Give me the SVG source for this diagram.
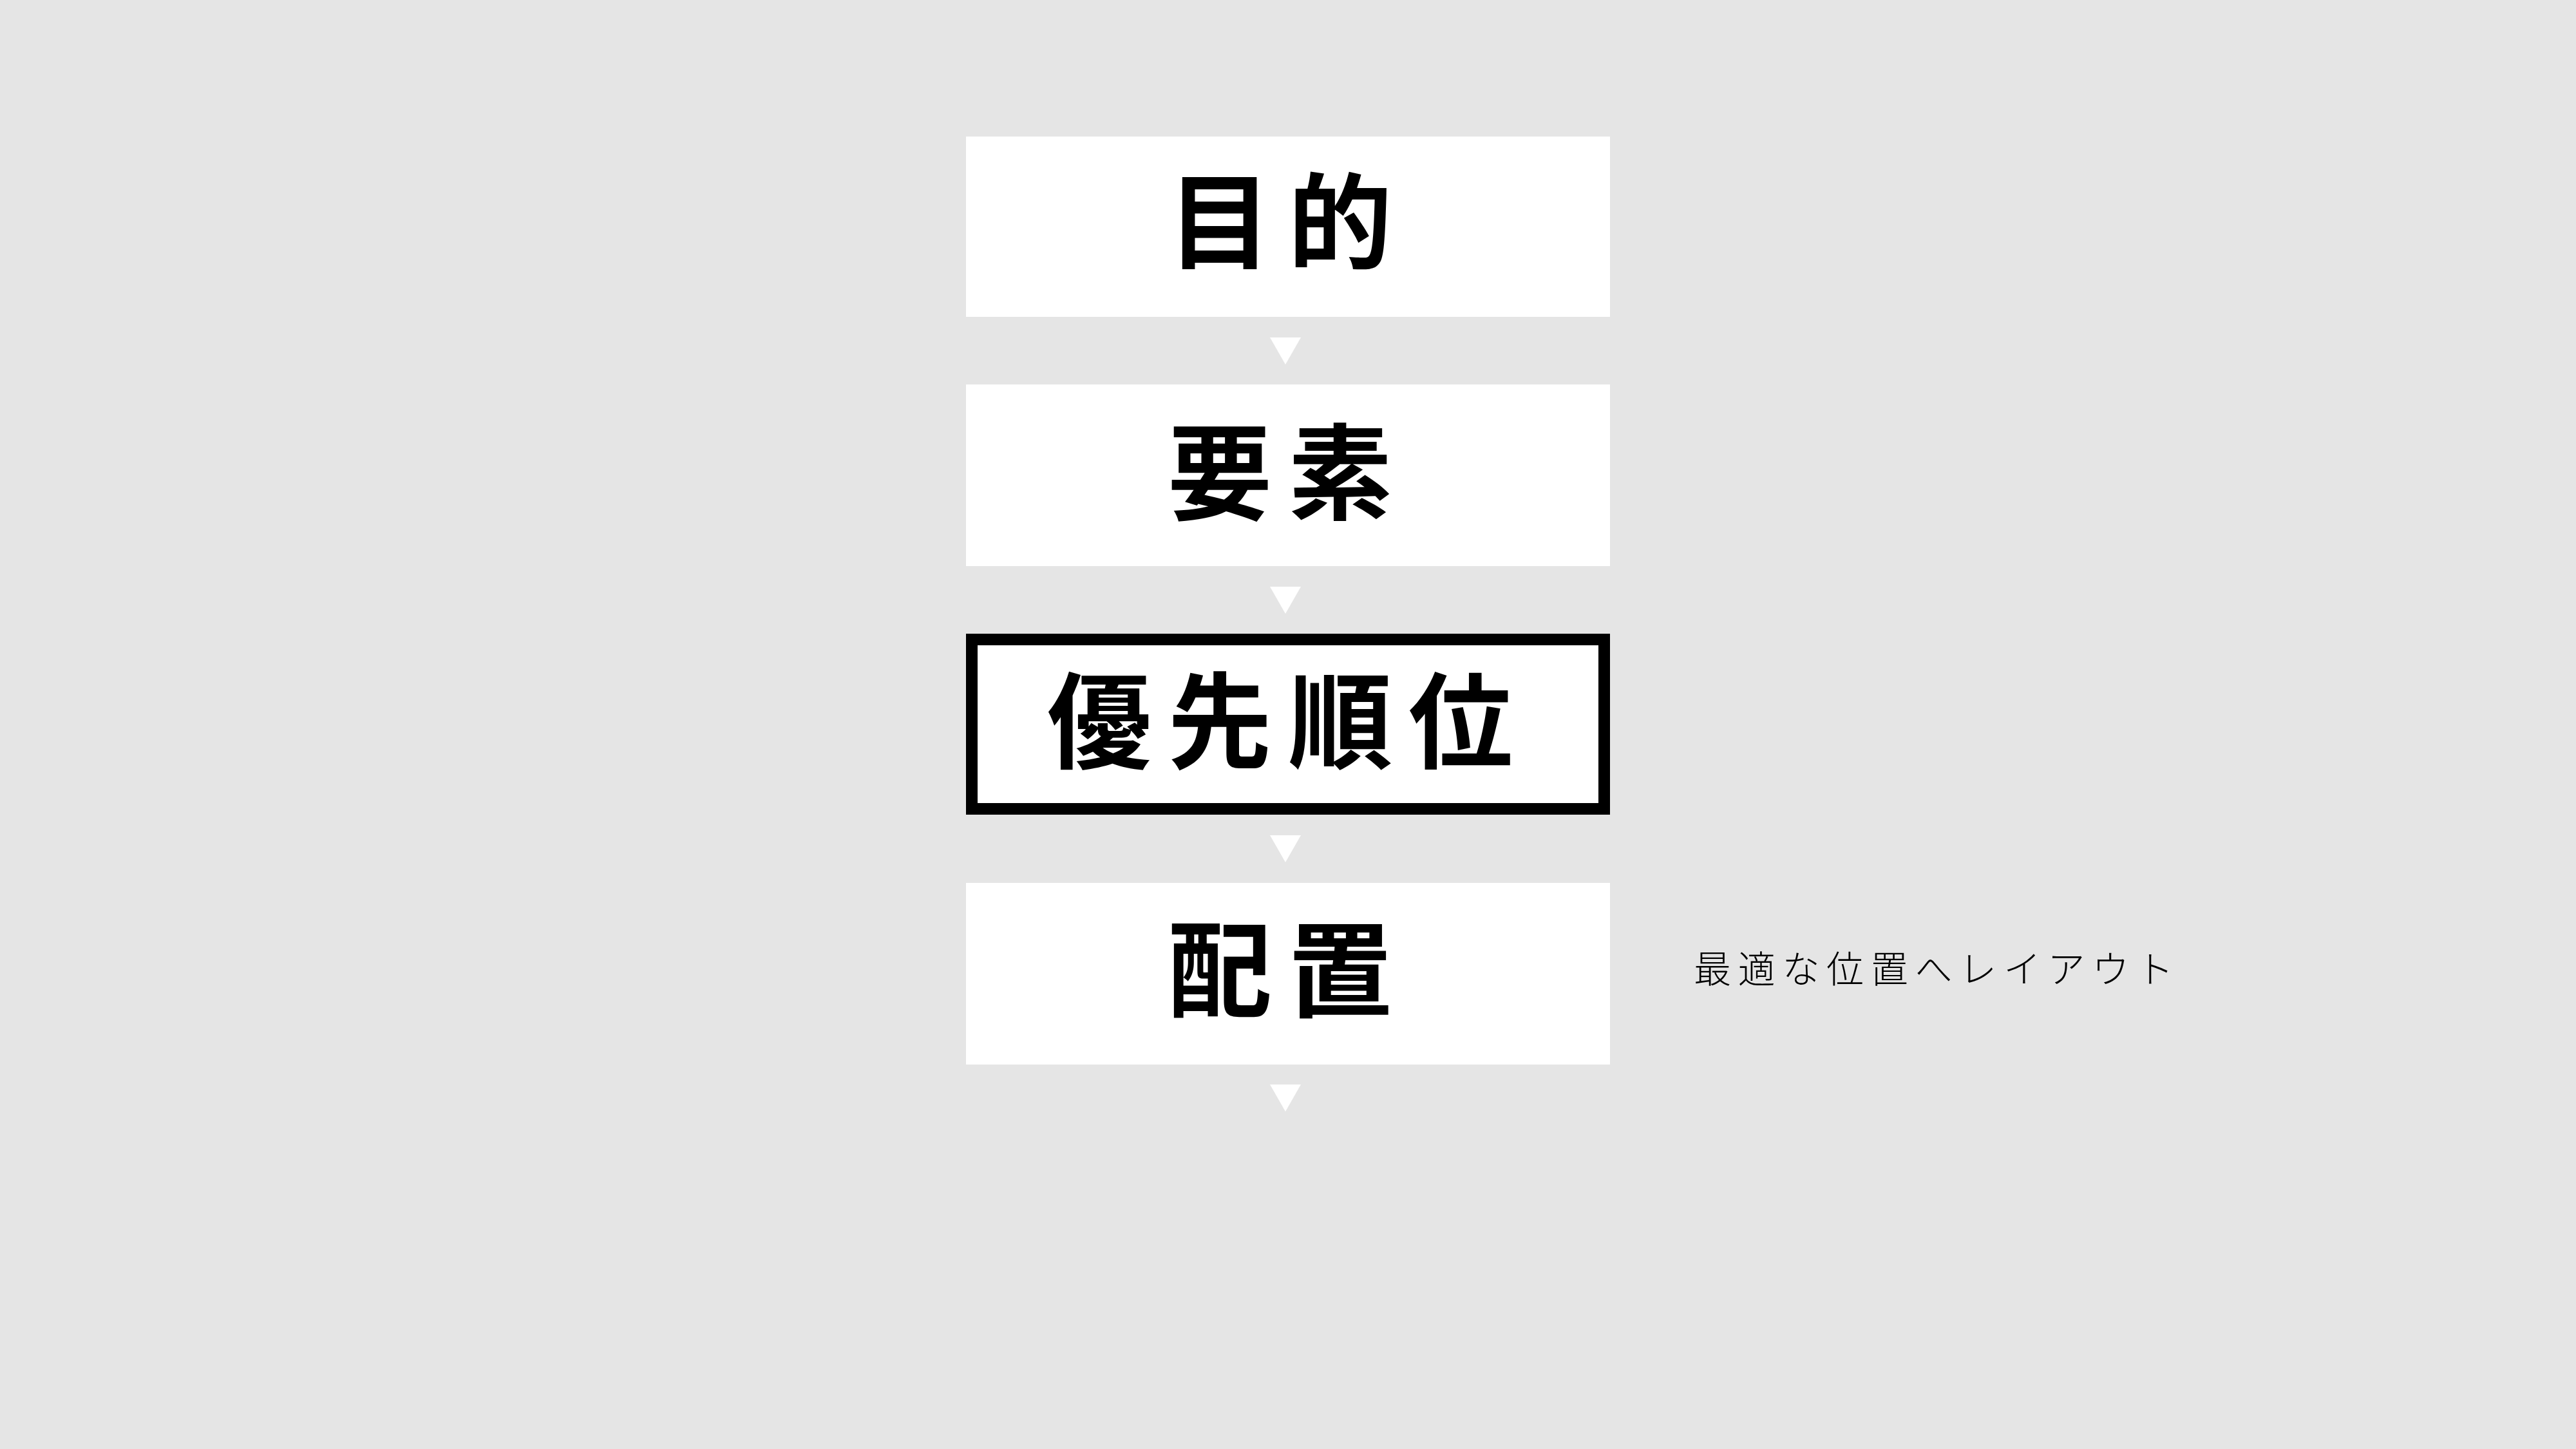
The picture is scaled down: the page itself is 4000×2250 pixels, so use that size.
<svg xmlns="http://www.w3.org/2000/svg" width="4000" height="2250" viewBox="0 0 4000 2250">
<style>
.box{fill:#ffffff}
.hl{fill:#ffffff;stroke:#000000;stroke-width:18}
.t{font-family:"Noto Sans CJK JP","Noto Sans CJK SC",sans-serif;font-weight:700;font-size:162px;letter-spacing:25px;fill:#000000;text-anchor:middle}
.note{font-family:"Noto Sans CJK JP","Noto Sans CJK SC",sans-serif;font-weight:300;font-size:58px;letter-spacing:10.7px;fill:#000000}
.arr{fill:#ffffff}
</style>
<rect x="0" y="0" width="4000" height="2250" fill="#e5e5e5"/>
<g id="n1">
<rect class="box" x="1500" y="212" width="1000" height="280"/>
<text class="t" x="2000" y="405">目的</text>
</g>
<g id="n2">
<rect class="box" x="1500" y="597" width="1000" height="282"/>
<text class="t" x="2000" y="795">要素</text>
</g>
<g id="n3">
<rect class="hl" x="1509" y="993" width="982" height="263"/>
<text class="t" x="2000" y="1181">優先順位</text>
</g>
<g id="n4">
<rect class="box" x="1500" y="1371" width="1000" height="282"/>
<text class="t" x="2000" y="1567">配置</text>
</g>
<g id="connectors">
<polygon class="arr" points="1972,524 2020,524 1996,566"/>
<polygon class="arr" points="1972,911 2020,911 1996,953"/>
<polygon class="arr" points="1972,1297 2020,1297 1996,1339"/>
<polygon class="arr" points="1972,1684 2020,1684 1996,1726"/>
</g>
<g id="note">
<text class="note" x="2630" y="1526">最適な位置へレイアウト</text>
</g>
</svg>
